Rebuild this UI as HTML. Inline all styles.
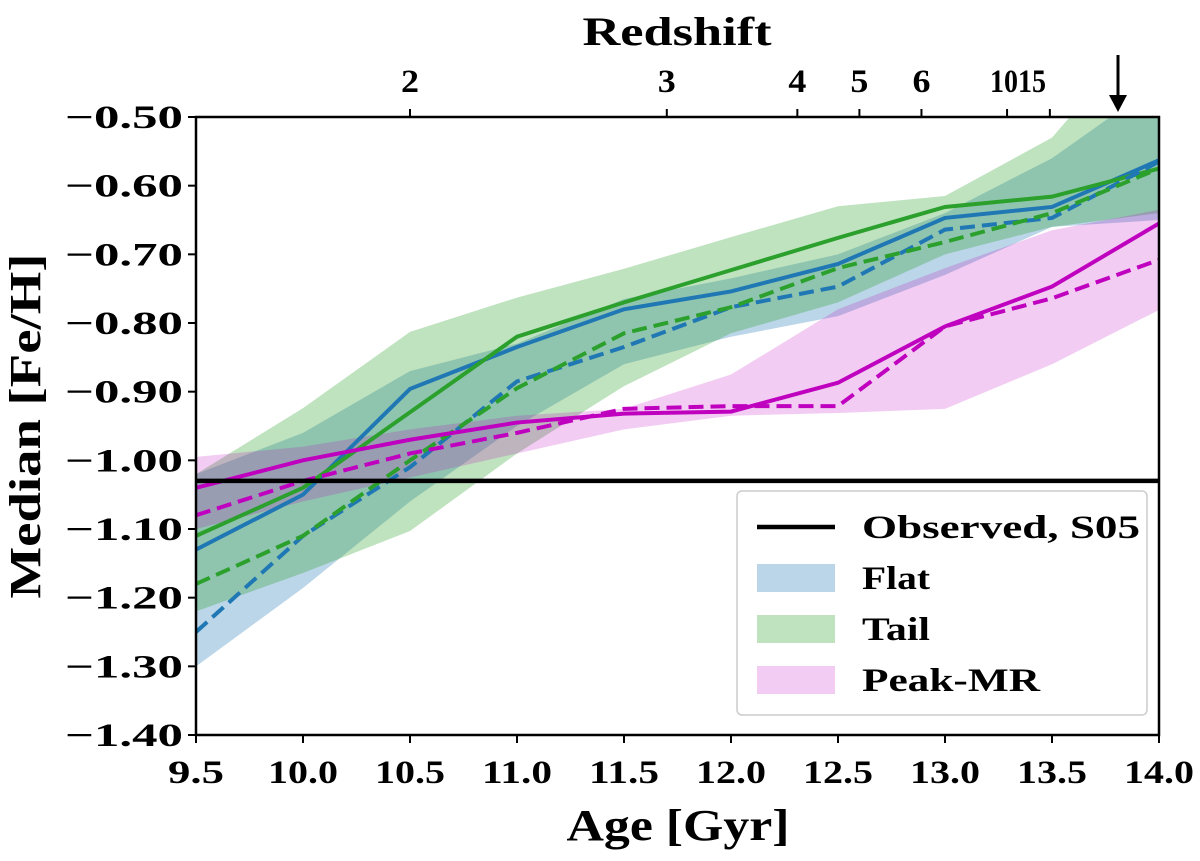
<!DOCTYPE html>
<html><head><meta charset="utf-8"><style>
body{margin:0;background:#fff}
svg text{font-family:"Liberation Serif",serif;font-weight:bold;fill:#000}
</style></head><body>
<svg id="chart" width="1200" height="856" xmlns="http://www.w3.org/2000/svg"></svg>
<script>
const ages=[9.5,10,10.5,11,11.5,12,12.5,13,13.5,14];
const flatSolid=[-1.13,-1.05,-0.896,-0.835,-0.78,-0.754,-0.714,-0.647,-0.631,-0.563];
const flatDashed=[-1.25,-1.11,-1.01,-0.885,-0.835,-0.777,-0.747,-0.664,-0.647,-0.565];
const tailSolid=[-1.11,-1.04,-0.93,-0.82,-0.77,-0.723,-0.676,-0.631,-0.616,-0.575];
const tailDashed=[-1.18,-1.11,-1.00,-0.895,-0.815,-0.777,-0.72,-0.682,-0.64,-0.575];
const peakSolid=[-1.04,-1.00,-0.97,-0.945,-0.932,-0.929,-0.887,-0.805,-0.747,-0.655];
const peakDashed=[-1.08,-1.03,-0.99,-0.96,-0.925,-0.921,-0.921,-0.805,-0.764,-0.708];
const flatUpper=[-1.02,-0.96,-0.87,-0.83,-0.765,-0.735,-0.70,-0.64,-0.56,-0.45];
const flatLower=[-1.30,-1.186,-1.06,-0.95,-0.86,-0.82,-0.79,-0.73,-0.66,-0.65];
const tailUpper=[-1.02,-0.924,-0.813,-0.763,-0.721,-0.675,-0.63,-0.615,-0.53,-0.35];
const tailLower=[-1.22,-1.164,-1.103,-0.99,-0.892,-0.815,-0.77,-0.70,-0.66,-0.64];
const peakUpper=[-0.995,-0.98,-0.955,-0.935,-0.925,-0.875,-0.78,-0.72,-0.665,-0.635];
const peakLower=[-1.10,-1.06,-1.025,-0.99,-0.955,-0.935,-0.931,-0.925,-0.86,-0.781];
const observed=-1.03;
const xTicks=[9.5,10,10.5,11,11.5,12,12.5,13,13.5,14];
const yTicks=[-0.5,-0.6,-0.7,-0.8,-0.9,-1.0,-1.1,-1.2,-1.3,-1.4];
const zLabels=["2","3","4","5","6","10","15"];
const zAges=[10.5,11.7,12.31,12.6,12.89,13.29,13.49];

const L=196,R=1159,T=117,B=735;
const X=a=>L+(a-9.5)/(14-9.5)*(R-L);
const Y=v=>T+(-0.5-v)/(0.9)*(B-T);
const NS="http://www.w3.org/2000/svg";
const svg=document.getElementById('chart');
function mk(tag,attrs,parent){const e=document.createElementNS(NS,tag);for(const k in attrs)e.setAttribute(k,attrs[k]);(parent||svg).appendChild(e);return e;}

const defs=mk('defs',{});
const cp=mk('clipPath',{id:'pc'},defs);mk('rect',{x:L,y:T,width:R-L,height:B-T},cp);
const plot=mk('g',{'clip-path':'url(#pc)'});



function band(up,lo,color,op,name){
  let d=ages.map((a,i)=>(i?'L':'M')+X(a)+','+Y(up[i])).join('');
  for(let i=ages.length-1;i>=0;i--)d+='L'+X(ages[i])+','+Y(lo[i]);
  const p=mk('path',{d:d+'Z',fill:color,'fill-opacity':op,stroke:'none'},plot);
  
  
}
band(flatUpper,flatLower,'#1f77b4',0.3,'flat-band');
band(tailUpper,tailLower,'#2ca02c',0.3,'tail-band');
band(peakUpper,peakLower,'#bf00bf',0.2,'peak-mr-band');

function line(vals,color,dash,name){
  const d=ages.map((a,i)=>(i?'L':'M')+X(a)+','+Y(vals[i])).join('');
  const p=mk('path',{d:d,fill:'none',stroke:color,'stroke-width':4,'stroke-dasharray':dash?'15,7':'none'},plot);
  
  
}
line(flatSolid,'#1f77b4',false,'flat-solid-line');
line(tailSolid,'#2ca02c',false,'tail-solid-line');
line(flatDashed,'#1f77b4',true,'flat-dashed-line');
line(tailDashed,'#2ca02c',true,'tail-dashed-line');
line(peakSolid,'#bf00bf',false,'peak-mr-solid-line');
line(peakDashed,'#bf00bf',true,'peak-mr-dashed-line');
const ob=mk('line',{x1:L,x2:R,y1:Y(observed),y2:Y(observed),stroke:'#000','stroke-width':4.5},plot);



const frame=mk('rect',{x:L,y:T,width:R-L,height:B-T,fill:'none',stroke:'#000','stroke-width':2.5});



function txt(parent,attrs,s,len){
  const t=mk('text',attrs,parent);t.textContent=s;
  if(len){t.setAttribute('textLength',len);t.setAttribute('lengthAdjust','spacingAndGlyphs');}
  return t;
}
xTicks.forEach(t=>{
  mk('line',{x1:X(t),x2:X(t),y1:B,y2:B+8,stroke:'#000','stroke-width':2});
  const s=t.toFixed(1);
  const tx=txt(svg,{x:X(t),y:783,'text-anchor':'middle','font-size':33},s,s.length>3?70:56);
  
  
});
yTicks.forEach(t=>{
  mk('line',{x1:L-8,x2:L,y1:Y(t),y2:Y(t),stroke:'#000','stroke-width':2});
  const tx=txt(svg,{x:183,y:Y(t)+11,'text-anchor':'end','font-size':33},'\u2212'+Math.abs(t).toFixed(2),118);
  
  
});
zAges.forEach(a=>{
  mk('line',{x1:X(a),x2:X(a),y1:T-8,y2:T,stroke:'#000','stroke-width':2});
});
zLabels.forEach((l,i)=>{
  const xx=i<5?X(zAges[i]):(i==5?1004:1032);
  const tx=txt(svg,{x:xx,y:92,'text-anchor':'middle','font-size':33},l,l.length>1?28:18);
  
  
});
const zt=txt(svg,{x:677,y:45,'text-anchor':'middle','font-size':40},'Redshift',189);


const ar=mk('g',{});


mk('line',{x1:1118,x2:1118,y1:55,y2:105,stroke:'#000','stroke-width':3},ar);
mk('path',{d:'M1109,95 L1118,112 L1127,95 Z',fill:'#000'},ar);

const xt=txt(svg,{x:678,y:840,'text-anchor':'middle','font-size':44},'Age [Gyr]',223);


const yt=txt(svg,{x:0,y:0,'text-anchor':'middle','font-size':44,transform:'translate(40,426) rotate(-90)'},'Median [Fe/H]',345);



const lg=mk('g',{});


mk('rect',{x:737,y:491,width:410,height:224,rx:5,fill:'#fff','fill-opacity':0.85,stroke:'#ccc','stroke-width':1.5},lg);
mk('line',{x1:757,x2:835,y1:527,y2:527,stroke:'#000','stroke-width':4.5},lg);
const ents=[['Observed, S05',null,0,278],['Flat','#1f77b4',0.3,68],['Tail','#2ca02c',0.3,68],['Peak-MR','#bf00bf',0.2,178]];
ents.forEach((e,i)=>{
  const y=527+i*51;
  if(e[1])mk('rect',{x:757,y:y-14,width:78,height:28,fill:e[1],'fill-opacity':e[2]},lg);
  const tx=txt(lg,{x:862,y:y+11,'font-size':33},e[0],e[3]);
  
  
});
</script>
</body></html>
